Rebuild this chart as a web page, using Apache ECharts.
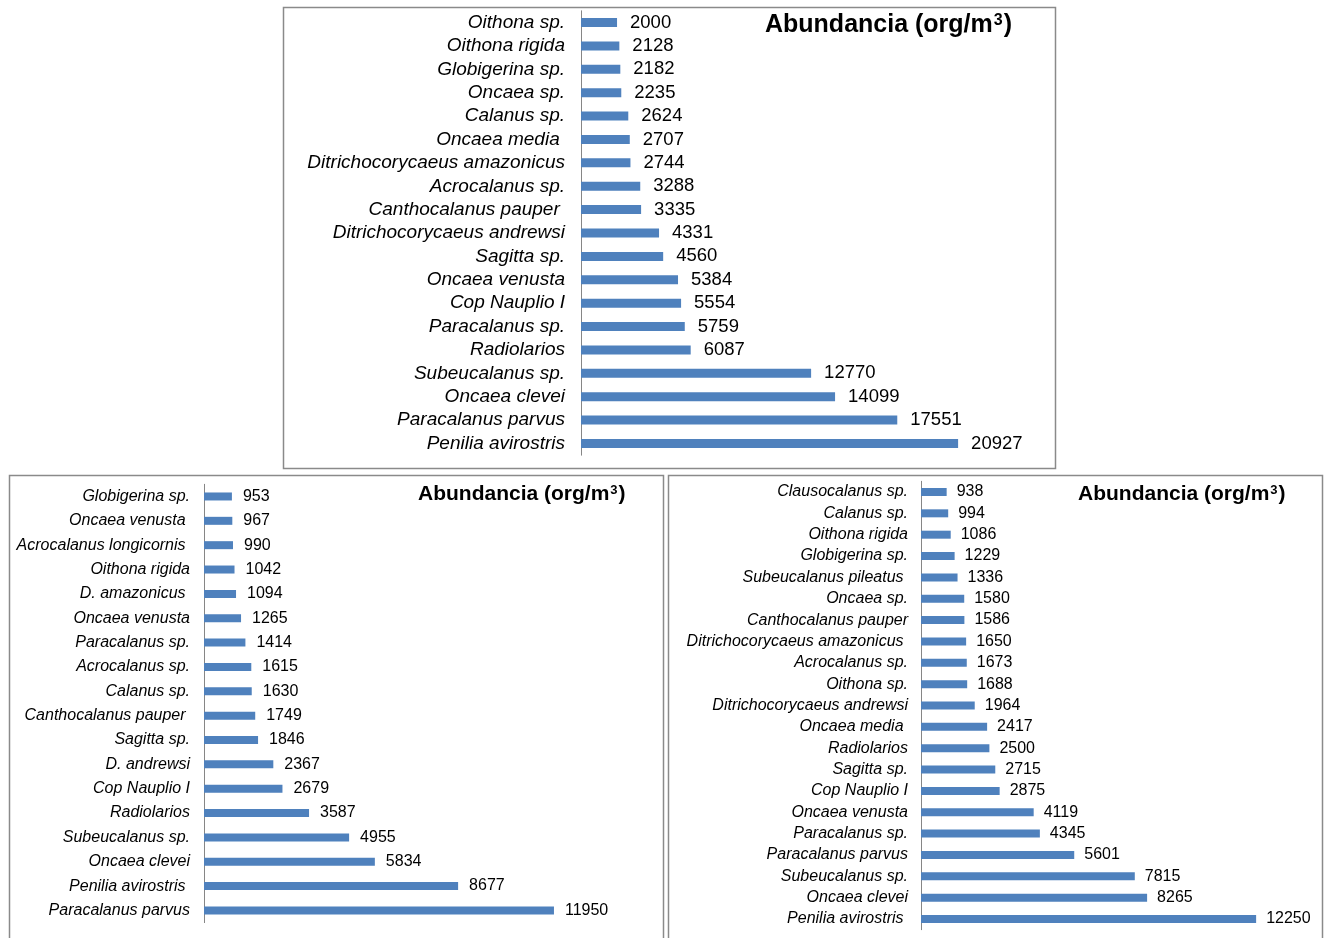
<!DOCTYPE html>
<html><head><meta charset="utf-8">
<script src="https://cdn.jsdelivr.net/npm/echarts@6/dist/echarts.min.js"></script>
<style>html,body{margin:0;padding:0;background:#fff}#c{width:1330px;height:938px}</style>
</head><body><div id="c"></div><script>
// Top panel
const topCats = ['Oithona sp.','Oithona rigida','Globigerina sp.','Oncaea sp.','Calanus sp.','Oncaea media ','Ditrichocorycaeus amazonicus','Acrocalanus sp.','Canthocalanus pauper ','Ditrichocorycaeus andrewsi','Sagitta sp.','Oncaea venusta','Cop Nauplio I','Paracalanus sp.','Radiolarios','Subeucalanus sp.','Oncaea clevei','Paracalanus parvus','Penilia avirostris'];
const topVals = [2000,2128,2182,2235,2624,2707,2744,3288,3335,4331,4560,5384,5554,5759,6087,12770,14099,17551,20927];
// Bottom-left panel
const leftCats = ['Globigerina sp.','Oncaea venusta ','Acrocalanus longicornis ','Oithona rigida','D. amazonicus ','Oncaea venusta','Paracalanus sp.','Acrocalanus sp.','Calanus sp.','Canthocalanus pauper ','Sagitta sp.','D. andrewsi','Cop Nauplio I','Radiolarios','Subeucalanus sp.','Oncaea clevei','Penilia avirostris ','Paracalanus parvus'];
const leftVals = [953,967,990,1042,1094,1265,1414,1615,1630,1749,1846,2367,2679,3587,4955,5834,8677,11950];
// Bottom-right panel
const rightCats = ['Clausocalanus sp.','Calanus sp.','Oithona rigida','Globigerina sp.','Subeucalanus pileatus ','Oncaea sp.','Canthocalanus pauper','Ditrichocorycaeus amazonicus ','Acrocalanus sp.','Oithona sp.','Ditrichocorycaeus andrewsi','Oncaea media ','Radiolarios','Sagitta sp.','Cop Nauplio I','Oncaea venusta','Paracalanus sp.','Paracalanus parvus','Subeucalanus sp.','Oncaea clevei','Penilia avirostris '];
const rightVals = [938,994,1086,1229,1336,1580,1586,1650,1673,1688,1964,2417,2500,2715,2875,4119,4345,5601,7815,8265,12250];

const titleRich = '{a|Abundancia (org/m}{s|3}{a|)}';
const FONT = "'Liberation Sans', Arial, sans-serif";
const BAR = '#4f81bd';

const chart = echarts.init(document.getElementById('c'), null, {renderer:'canvas'});

function yAx(idx, cats, fs, margin){
  return {type:'category', gridIndex:idx, inverse:true, data:cats,
    axisTick:{show:false},
    axisLine:{show:true, lineStyle:{color:'#868686', width:1}},
    axisLabel:{fontStyle:'italic', fontSize:fs, color:'#000', margin:margin, fontFamily:FONT, interval:0, padding:[3,0,0,0]}};
}
function xAx(idx, max){
  return {type:'value', gridIndex:idx, min:0, max:max, show:false, splitLine:{show:false}};
}
function ser(idx, vals, bw, fs, dist){
  return {type:'bar', xAxisIndex:idx, yAxisIndex:idx, data:vals, barWidth:bw, silent:true,
    itemStyle:{color:BAR},
    label:{show:true, position:'right', distance:dist, fontSize:fs, color:'#000', fontFamily:FONT, padding:[3,0,0,0]}};
}
function ttl(left, top, fs){
  return {text:titleRich, left:left, top:top, padding:0,
    textStyle:{rich:{
      a:{fontSize:fs, fontWeight:'bold', color:'#000', fontFamily:FONT, lineHeight:fs},
      s:{fontSize:Math.round(fs*0.62), fontWeight:'bold', color:'#000', fontFamily:FONT, verticalAlign:'top', lineHeight:fs, padding:[0,1,0,1]}
    }}};
}

chart.setOption({
  animation:false,
  textStyle:{fontFamily:FONT},
  title:[ttl(765,13,25), ttl(418,484,21), ttl(1078,484,21)],
  graphic:[
    {type:'rect', shape:{x:283.5, y:7.5, width:772, height:461}, style:{fill:'none', stroke:'#8a8a8a', lineWidth:1.5}, silent:true},
    {type:'rect', shape:{x:9.5, y:475.5, width:654, height:470}, style:{fill:'none', stroke:'#8a8a8a', lineWidth:1.5}, silent:true},
    {type:'rect', shape:{x:668.5, y:475.5, width:654, height:470}, style:{fill:'none', stroke:'#8a8a8a', lineWidth:1.5}, silent:true}
  ],
  grid:[
    {left:581, top:10.8, width:450.5, height:444.4},
    {left:204, top:484.3, width:410, height:438.3},
    {left:921, top:481.3, width:383, height:448.4}
  ],
  xAxis:[xAx(0,25000), xAx(1,14000), xAx(2,14000)],
  yAxis:[yAx(0,topCats,19,16), yAx(1,leftCats,16,14), yAx(2,rightCats,16,13)],
  series:[ser(0,topVals,9,18.5,13), ser(1,leftVals,8,16,11), ser(2,rightVals,8,16,10)]
});
</script></body></html>
